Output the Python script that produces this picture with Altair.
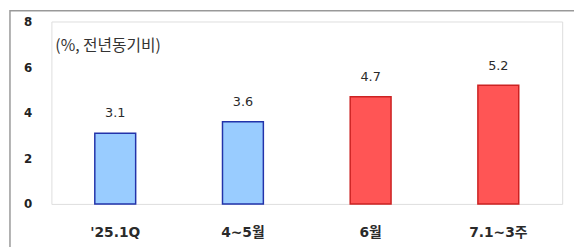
import altair as alt
import pandas as pd

categories = ["'25.1Q", "4~5월", "6월", "7.1~3주"]
values = [3.1, 3.6, 4.7, 5.2]
groups = ["past", "past", "recent", "recent"]
y_ticks = [0, 2, 4, 6, 8]
unit_note = "(%, 전년동기비)"

df = pd.DataFrame({"cat": categories, "val": values, "grp": groups,
                   "lbl": [f"{v:.1f}" for v in values]})

FONT = "DejaVu Sans, Noto Sans CJK KR"

x_enc = alt.X("cat:N", sort=categories,
              scale=alt.Scale(paddingInner=0.68, paddingOuter=0.34),
              axis=alt.Axis(title=None, labelAngle=0, domain=False, ticks=False,
                            labelFont=FONT, labelFontSize=14, labelFontWeight="bold",
                            labelColor="#2a2a2a", labelPadding=22))
y_enc = alt.Y("val:Q", scale=alt.Scale(domain=[0, 8], nice=False),
              axis=alt.Axis(title=None, values=y_ticks, grid=False, domain=False,
                            ticks=False, labelFont=FONT, labelFontSize=12,
                            labelFontWeight="bold", labelColor="#222222",
                            labelPadding=24, labelAlign="center"))

base = alt.Chart(df)

bars = base.mark_bar(strokeWidth=1.5).encode(
    x=x_enc, y=y_enc,
    fill=alt.Color("grp:N", scale=alt.Scale(domain=["past", "recent"],
                                             range=["#99CCFF", "#FF5555"]), legend=None),
    stroke=alt.Stroke("grp:N", scale=alt.Scale(domain=["past", "recent"],
                                                range=["#2233AA", "#CC2222"]), legend=None),
)

labels = base.mark_text(dy=-20, font=FONT, fontSize=13, color="#2a2a2a").encode(
    x=alt.X("cat:N", sort=categories), y="val:Q", text="lbl:N")

note = alt.Chart(pd.DataFrame({"t": [unit_note]})).mark_text(
    align="left", baseline="middle", font="Noto Sans CJK KR, DejaVu Sans",
    fontSize=16, color="#333333").encode(
    x=alt.value(4), y=alt.value(25), text="t:N")

frame = alt.Chart(pd.DataFrame({"a": [0]})).mark_rect(
    fill=None, stroke="#999999", strokeWidth=1.5).encode(
    x=alt.value(-42), x2=alt.value(540), y=alt.value(-11), y2=alt.value(250))

chart = alt.layer(frame, bars, labels, note).properties(
    width=518, height=185,
    autosize=alt.AutoSizeParams(type="none"),
    padding={"left": 44, "top": 12, "right": 12, "bottom": 42},
).configure_view(stroke="#999999", strokeWidth=1.5).configure(background="white")

chart.save("out.html", embed_options={"renderer": "svg", "actions": False})
